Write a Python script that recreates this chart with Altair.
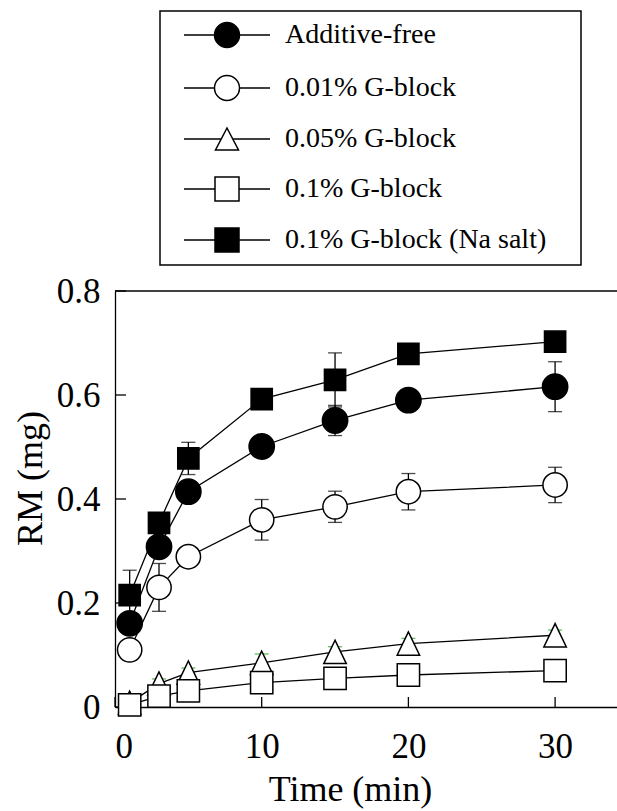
import altair as alt
import pandas as pd

# ---------------- data ----------------
series = ["Additive-free", "0.01% G-block", "0.05% G-block",
          "0.1% G-block", "0.1% G-block (Na salt)"]
time_min = [1, 3, 5, 10, 15, 20, 30]

rm_free = [0.161, 0.308, 0.414, 0.501, 0.551, 0.590, 0.616]
rm_g001 = [0.110, 0.230, 0.289, 0.360, 0.385, 0.414, 0.427]
rm_g005 = [0.008, 0.045, 0.066, 0.085, 0.106, 0.122, 0.138]
rm_g01 = [0.004, 0.021, 0.031, 0.047, 0.055, 0.0615, 0.070]
rm_na = [0.215, 0.354, 0.478, 0.592, 0.629, 0.679, 0.7025]

err_free = [0, 0, 0, 0.020, 0.029, 0, 0.048]
err_g001 = [0, 0.046, 0, 0.039, 0.030, 0.035, 0.034]
err_g005 = [0, 0.009, 0.009, 0.017, 0.010, 0.010, 0.010]
err_g01 = [0, 0, 0, 0, 0, 0, 0]
err_na = [0.048, 0, 0.031, 0, 0.052, 0, 0]

x_tick_values = [0, 10, 20, 30]
y_tick_values = [0, 0.2, 0.4, 0.6, 0.8]

# ---------------- table ----------------
rows = []
for name, vals, errs in zip(series,
                            [rm_free, rm_g001, rm_g005, rm_g01, rm_na],
                            [err_free, err_g001, err_g005, err_g01, err_na]):
    for t, v, e in zip(time_min, vals, errs):
        rows.append({"series": name, "t": t, "v": v, "err": e,
                     "lo": v - e, "hi": v + e})
df = pd.DataFrame(rows)

FONT = "Liberation Serif"
W, H = 502, 416

xs = alt.Scale(domain=[0, 34.22], nice=False, zero=False)
ys = alt.Scale(domain=[0, 0.8], nice=False)

x_axis = alt.Axis(values=x_tick_values, ticks=False, tickSize=0, grid=False,
                  domainColor="black", domainWidth=1.3,
                  labelFont=FONT, labelFontSize=35, labelColor="black",
                  labelBaseline="alphabetic", labelPadding=50,
                  titleFont=FONT, titleFontSize=36, titleFontWeight=400,
                  titleColor="black", titleX=235, titleY=93,
                  titleAlign="center", titleBaseline="alphabetic")
y_axis = alt.Axis(values=y_tick_values, ticks=False, tickSize=0, grid=False,
                  domainColor="black", domainWidth=1.3,
                  labelFont=FONT, labelFontSize=35, labelColor="black",
                  labelPadding=15,
                  labelExpr="datum.value == 0 ? '0' : format(datum.value, '.1f')",
                  titleFont=FONT, titleFontSize=36, titleFontWeight=400,
                  titleColor="black", titleX=-85, titleY=187, titleAngle=270,
                  titleAlign="center", titleBaseline="middle")

XT = "Time (min)"
YT = "RM (mg)"

def xq(field="t"):
    return alt.X(f"{field}:Q", scale=xs, title=XT, axis=x_axis)

def yq(field="v"):
    return alt.Y(f"{field}:Q", scale=ys, title=YT, axis=y_axis)

# plot marker styling per series
tri_path = "M0,-1L-0.963,1L0.963,1Z"
point_shapes = ["circle", "circle", tri_path, "square", "square"]
point_fills = ["black", "white", "white", "white", "black"]
point_sizes = [640, 450, 676, 670, 812]

# legend symbols (line + marker)
legend_paths = [
    "M-3.44,0H-1M1,0H3.44M1,0A1,1,0,1,1,-1,0A1,1,0,1,1,1,0Z",
    "M-3.44,0H-1M1,0H3.44M1,0A1,1,0,1,1,-1,0A1,1,0,1,1,1,0Z",
    "M-3.44,0H-0.46M0.46,0H3.44M0,-0.88L-0.92,0.88L0.92,0.88Z",
    "M-3.44,0H-0.96M0.96,0H3.44M-0.96,-0.96H0.96V0.96H-0.96Z",
    "M-3.44,0H-0.96M0.96,0H3.44M-0.96,-0.96H0.96V0.96H-0.96Z",
]

lines = alt.Chart(df).mark_line(color="black", strokeWidth=1.3).encode(
    x=xq(), y=yq(), detail="series:N", order="t:Q")

err_black = alt.Chart(df).transform_filter(
    "datum.err > 0 && datum.series != '0.05% G-block'"
).mark_errorbar(ticks=True, size=14, thickness=1.3, color="black").encode(
    x=xq(), y=yq("lo"), y2="hi:Q")

err_green = alt.Chart(df).transform_filter(
    "datum.err > 0 && datum.series == '0.05% G-block'"
).mark_errorbar(ticks=True, size=14, thickness=1.3, color="#19a319").encode(
    x=xq(), y=yq("lo"), y2="hi:Q")

points = alt.Chart(df).mark_point(stroke="black", strokeWidth=1.5,
                                  opacity=1, fillOpacity=1).encode(
    x=xq(), y=yq(),
    shape=alt.Shape("series:N", scale=alt.Scale(domain=series, range=point_shapes), legend=None),
    fill=alt.Fill("series:N", scale=alt.Scale(domain=series, range=point_fills), legend=None),
    size=alt.Size("series:N", scale=alt.Scale(domain=series, range=point_sizes), legend=None),
)

leg = alt.Legend(orient="none", legendX=45, legendY=-280,
                 title=" ", titleOrient="right", titleFontSize=1,
                 titlePadding=25,
                 padding=10, strokeColor="black",
                 labelFont=FONT, labelFontSize=28, labelColor="black",
                 labelBaseline="middle", labelOffset=44, labelLimit=500,
                 rowPadding=21, symbolOffset=43,
                 symbolSize=625, symbolStrokeColor="black",
                 symbolStrokeWidth=1.5, symbolOpacity=1)

legend_layer = alt.Chart(df).transform_filter("datum.t < 0").mark_point(
    strokeWidth=1.5, opacity=1, fillOpacity=1, size=625).encode(
    x=xq(), y=yq(),
    shape=alt.Shape("series:N", scale=alt.Scale(domain=series, range=legend_paths), legend=leg),
    fill=alt.Fill("series:N", scale=alt.Scale(domain=series, range=point_fills), legend=leg),
    stroke=alt.Stroke("series:N", scale=alt.Scale(domain=series, range=["black"] * 5), legend=leg),
)

y_ticks = alt.Chart(pd.DataFrame({"v": y_tick_values})).mark_rule(
    color="black", strokeWidth=1.3).encode(
    y=yq(), x=alt.value(0), x2=alt.value(11))

x_ticks = alt.Chart(pd.DataFrame({"t": x_tick_values})).mark_rule(
    color="black", strokeWidth=1.3).encode(
    x=xq(), y=alt.value(H), y2=alt.value(H - 10))

top_border = alt.Chart(pd.DataFrame({"v": [0.8]})).mark_rule(
    color="black", strokeWidth=1.3).encode(y=yq())

chart = alt.layer(
    lines, err_black, err_green, y_ticks, x_ticks, top_border, points, legend_layer
).resolve_scale(
    shape="independent", fill="independent", size="independent",
    stroke="independent"
).properties(
    width=W, height=H,
    padding={"left": 115, "top": 291, "right": 0, "bottom": 104},
    autosize=alt.AutoSizeParams(type="none"),
    background="white",
).configure_view(stroke=None).configure_legend(strokeWidth=1.5)

chart.save("out.html", embed_options={"renderer": "svg", "actions": False})
